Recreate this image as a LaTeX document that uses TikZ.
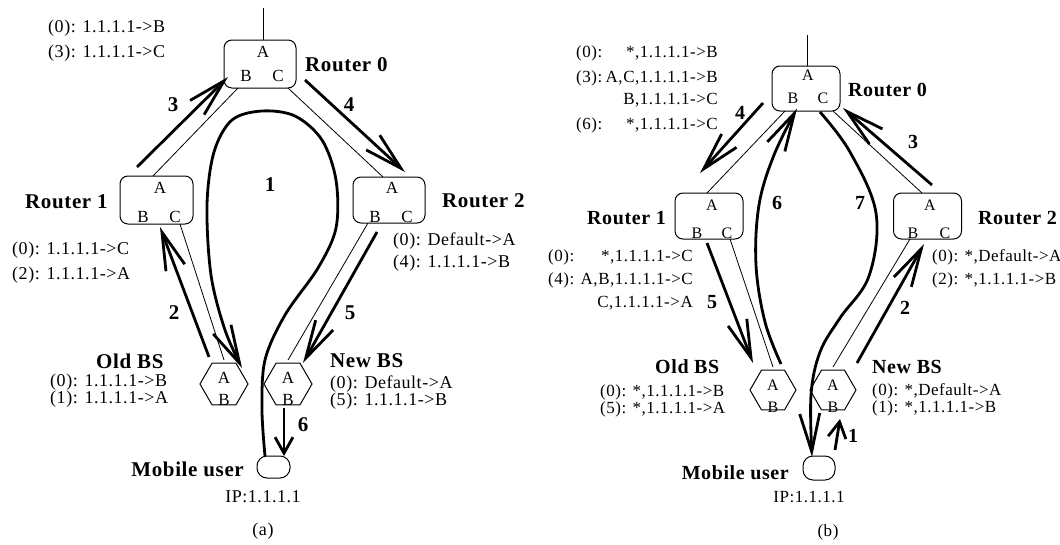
\documentclass[tikz,border=0pt]{standalone}
\usepackage{fontspec}
\setmainfont{Liberation Serif}
\newfontfamily\spacedfont[LetterSpace=3]{Liberation Serif}
\usetikzlibrary{arrows.meta,calc,shapes.geometric}
\begin{document}
\begin{tikzpicture}[x=1pt,y=-1pt,
  box/.style={draw,line width=1pt,rounded corners=8pt,minimum width=72pt,minimum height=48pt,inner sep=0pt},
  boxb/.style={box,minimum width=68pt,minimum height=46pt},
  hexa/.style={draw,line width=1pt,regular polygon,regular polygon sides=6,minimum size=48pt,inner sep=0pt},
  hexb/.style={hexa,minimum size=46pt},
  mob/.style={draw,line width=1pt,rounded corners=10pt,minimum width=33pt,minimum height=22pt,inner sep=0pt},
  port/.style={inner sep=0pt,font=\fontsize{17}{19}\selectfont},
  portb/.style={inner sep=0pt,font=\fontsize{16}{18}\selectfont},
  txa/.style={inner sep=0pt,font=\spacedfont\fontsize{18}{20}\selectfont},
  txb/.style={inner sep=0pt,font=\spacedfont\fontsize{17}{19}\selectfont},
  lbla/.style={inner sep=0pt,font=\spacedfont\bfseries\fontsize{21}{23}\selectfont},
  lblb/.style={inner sep=0pt,font=\spacedfont\bfseries\fontsize{20}{22}\selectfont},
  link/.style={line width=0.8pt},
  flow/.style={line width=2.8pt,-{Straight Barb[length=38pt,width=20pt]}},
  shortflow/.style={line width=2.8pt,-{Straight Barb[length=16pt,width=18pt]}},
]
\useasboundingbox (0,0) rectangle (1060,544);

% ================= panel (a) =================
\node[box] (r0a) at (260,64) {};
\node[port] (r0aA) at (263,52) {A};
\node[port] (r0aB) at (246,76) {B};
\node[port] (r0aC) at (278,76) {C};
\node[box,minimum width=73pt] (r1a) at (156.5,200) {};
\node[port] (r1aA) at (160,188) {A};
\node[port] (r1aB) at (143,217) {B};
\node[port] (r1aC) at (175,217) {C};
\node[box,minimum height=46pt] (r2a) at (389,200) {};
\node[port] (r2aA) at (392,188) {A};
\node[port] (r2aB) at (375,217) {B};
\node[port] (r2aC) at (407,217) {C};
\node[hexa] (olda) at (224,384) {};
\node[port] (oldaA) at (224,378) {A};
\node[port] (oldaB) at (224,400) {B};
\node[hexa] (newa) at (288,384) {};
\node[port] (newaA) at (288,378) {A};
\node[port] (newaB) at (288,400) {B};
\node[mob] (mua) at (273.5,467) {};

% links
\draw[link] ($(r0a)+(3,-24)$) -- ++(0,-32);
\draw[link] ($(r0a)+(-22,24)$) -- ($(r1a)+(-3.5,-24)$);
\draw[link] ($(r0a)+(28,24)$) -- ($(r2a)+(-6,-23)$);
\draw[link] ($(r1a)+(23.5,24)$) -- ($(olda)+(0,-24)$);
\draw[link] ($(r2a)+(-21,23)$) -- ($(newa)+(0,-24)$);

% flows
\draw[flow] ($(r1a)+(-19.5,-33)$) -- ($(r0a)+(-32,13)$);
\draw[flow] ($(r0a)+(45,16)$) -- ($(r2a)+(16,-28)$);
\draw[flow] ($(olda)+(-15,-27)$) -- ($(r1a)+(3.5,27)$);
\draw[flow] ($(r2a)+(-12,32)$) -- ($(newa)+(15,-21)$);
\draw[shortflow] ($(newa)+(-4,24)$) -- ($(newa)+(-4,72)$);
\draw[flow] plot[smooth,tension=0.55] coordinates {($(mua)+(-8.5,-11)$) (262,410) (265,360) (285,315) (318,268) (336,228) (336,180) (322,140) (295,116) (262,111) (232,120) (214,152) (207,205) (211,275) (225,330) ($(olda)+(18,-16)$)};

% texts
\node[txa,anchor=west] (ta0) at (48,28) {(0): 1.1.1.1->B};
\node[txa,anchor=west] (ta3) at (48,53) {(3): 1.1.1.1->C};
\node[lbla,anchor=west] (lr0a) at (305,65) {Router 0};
\node[lbla,anchor=west] (lr1a) at (25,202) {Router 1};
\node[txa,anchor=west] (t1a0) at (12,250) {(0): 1.1.1.1->C};
\node[txa,anchor=west] (t1a2) at (12,275) {(2): 1.1.1.1->A};
\node[lbla,anchor=west] (lr2a) at (442,201) {Router 2};
\node[txa,anchor=west] (t2a0) at (393,241) {(0): Default->A};
\node[txa,anchor=west] (t2a4) at (393,263) {(4): 1.1.1.1->B};
\node[lbla,anchor=west] (loa) at (96,361) {Old BS};
\node[txa,anchor=west] (toa0) at (50,382) {(0): 1.1.1.1->B};
\node[txa,anchor=west] (toa1) at (50,399) {(1): 1.1.1.1->A};
\node[lbla,anchor=west] (lna) at (330,361) {New BS};
\node[txa,anchor=west] (tna0) at (330,384) {(0): Default->A};
\node[txa,anchor=west] (tna5) at (330,401) {(5): 1.1.1.1->B};
\node[lbla,anchor=east] (lmua) at (244,469) {Mobile user};
\node[txa] (ipa) at (263,497) {IP:1.1.1.1};
\node[txa] (capa) at (263,531) {(a)};
\node[lbla] (na1) at (270,185) {1};
\node[lbla] (na2) at (174,313) {2};
\node[lbla] (na3) at (173,105) {3};
\node[lbla] (na4) at (349,105) {4};
\node[lbla] (na5) at (350,313) {5};
\node[lbla] (na6) at (303,425) {6};

% ================= panel (b) =================
\node[boxb,minimum height=45pt] (r0b) at (806,88.5) {};
\node[portb] (r0bA) at (808,75) {A};
\node[portb] (r0bB) at (793,98) {B};
\node[portb] (r0bC) at (823,98) {C};
\node[boxb] (r1b) at (709,216) {};
\node[portb] (r1bA) at (712,205) {A};
\node[portb] (r1bB) at (697,233) {B};
\node[portb] (r1bC) at (727,233) {C};
\node[boxb] (r2b) at (927.5,216) {};
\node[portb] (r2bA) at (930,205) {A};
\node[portb] (r2bB) at (913,233) {B};
\node[portb] (r2bC) at (945,233) {C};
\node[hexb] (oldb) at (773,390) {};
\node[portb] (oldbA) at (773,385) {A};
\node[portb] (oldbB) at (773,407) {B};
\node[hexb] (newb) at (833,390) {};
\node[portb] (newbA) at (833,385) {A};
\node[portb] (newbB) at (833,407) {B};
\node[mob,minimum width=32pt,minimum height=24pt] (mub) at (819,468) {};

% links
\draw[link] ($(r0b)+(1,-22.5)$) -- ++(0,-31);
\draw[link] ($(r0b)+(-21,22.5)$) -- ($(r1b)+(-2,-23)$);
\draw[link] ($(r0b)+(27,22.5)$) -- ($(r2b)+(-5.5,-23)$);
\draw[link] ($(r1b)+(21,23)$) -- ($(oldb)+(0,-23)$);
\draw[link] ($(r2b)+(-17.5,23)$) -- ($(newb)+(0,-23)$);

% flows
\draw[flow] ($(r0b)+(-43,14.5)$) -- ($(r1b)+(-9,-43)$);
\draw[flow] ($(r1b)+(-2,27)$) -- ($(oldb)+(-20,-27)$);
\draw[flow] ($(r2b)+(4.5,-31)$) -- ($(r0b)+(37,19.5)$);
\draw[flow] ($(newb)+(24,-27)$) -- ($(r2b)+(-3.5,28)$);
\draw[shortflow] ($(mub)+(16,-18)$) -- ($(newb)+(7,29)$);
\draw[flow] plot[smooth,tension=0.6] coordinates {($(oldb)+(8,-26)$) (765,322) (756,265) (759,205) (774,155) ($(r0b)+(-9,20)$)};
\draw[flow] plot[smooth,tension=0.6] coordinates {($(r0b)+(14,23.5)$) (850,152) (876,213) (869,276) (840,318) (820,352) (811,395) ($(mub)+(-7,-11)$)};

% texts
\node[txb,anchor=west] (tb0l) at (576,53) {(0):};
\node[txb,anchor=east] (tb0r) at (718,53) {*,1.1.1.1->B};
\node[txb,anchor=west] (tb3l) at (576,78) {(3):};
\node[txb,anchor=east] (tb3r) at (718,78) {A,C,1.1.1.1->B};
\node[txb,anchor=east] (tb3s) at (718,100) {B,1.1.1.1->C};
\node[txb,anchor=west] (tb6l) at (576,125) {(6):};
\node[txb,anchor=east] (tb6r) at (718,125) {*,1.1.1.1->C};
\node[lblb,anchor=west] (lr0b) at (848,90) {Router 0};
\node[lblb,anchor=west] (lr1b) at (587,218) {Router 1};
\node[txb,anchor=west] (t1b0l) at (548,257) {(0):};
\node[txb,anchor=east] (t1b0r) at (693,257) {*,1.1.1.1->C};
\node[txb,anchor=west] (t1b4l) at (548,280) {(4):};
\node[txb,anchor=east] (t1b4r) at (693,280) {A,B,1.1.1.1->C};
\node[txb,anchor=east] (t1b4s) at (693,303) {C,1.1.1.1->A};
\node[lblb,anchor=west] (lr2b) at (978,218) {Router 2};
\node[txb,anchor=west] (t2b0) at (932,257) {(0): *,Default->A};
\node[txb,anchor=west] (t2b2) at (932,280) {(2): *,1.1.1.1->B};
\node[lblb,anchor=west] (lob) at (655,367) {Old BS};
\node[txb,anchor=west] (tob0) at (600,392) {(0): *,1.1.1.1->B};
\node[txb,anchor=west] (tob5) at (600,409) {(5): *,1.1.1.1->A};
\node[lblb,anchor=west] (lnb) at (872,367) {New BS};
\node[txb,anchor=west] (tnb0) at (872,391) {(0): *,Default->A};
\node[txb,anchor=west] (tnb1) at (872,408) {(1): *,1.1.1.1->B};
\node[lblb,anchor=east] (lmub) at (789,473) {Mobile user};
\node[txb] (ipb) at (809,497) {IP:1.1.1.1};
\node[txb] (capb) at (828,532) {(b)};
\node[lblb] (nb1) at (853,436) {1};
\node[lblb] (nb2) at (905,308) {2};
\node[lblb] (nb3) at (913,142) {3};
\node[lblb] (nb4) at (740,113) {4};
\node[lblb] (nb5) at (712,302) {5};
\node[lblb] (nb6) at (777,203) {6};
\node[lblb] (nb7) at (860,203) {7};
\end{tikzpicture}
\end{document}
